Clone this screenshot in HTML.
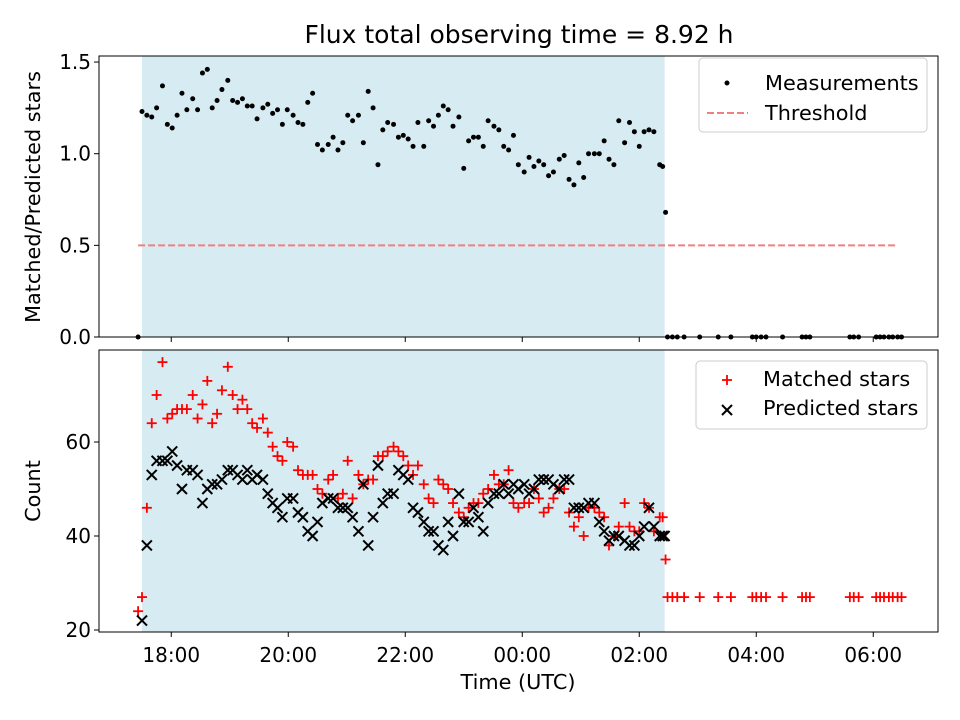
<!DOCTYPE html>
<html><head><meta charset="utf-8"><style>
body{margin:0;background:#fff}
svg{display:block;font-family:"DejaVu Sans","Liberation Sans",sans-serif}
</style></head><body>
<svg id="c" width="960" height="720" viewBox="0 0 960 720"></svg>
<script>
const times=[0,5,10,15,21,26,31,36,41,46,52,57,62,67,72,77,82,88,93,98,103,108,113,118,124,129,134,139,144,149,155,160,165,170,175,180,185,191,196,201,206,211,216,222,227,232,237,242,247,252,258,263,268,273,278,283,289,294,299,304,309,314,319,325,330,335,340,345,350,355,361,366,371,376,381,386,392,397,402,407,412,417,422,428,433,438,443,448,453,458,464,469,474,479,484,489,495,500,505,510,515,520,525,531,534,536];
const ratio=[1.23,1.21,1.20,1.25,1.37,1.16,1.14,1.21,1.33,1.24,1.30,1.24,1.44,1.46,1.25,1.29,1.35,1.40,1.29,1.28,1.30,1.26,1.26,1.19,1.25,1.27,1.22,1.24,1.16,1.24,1.21,1.17,1.16,1.28,1.33,1.05,1.02,1.05,1.09,1.02,1.06,1.21,1.18,1.21,1.06,1.34,1.25,0.94,1.13,1.17,1.16,1.09,1.10,1.08,1.04,1.17,1.04,1.18,1.15,1.21,1.26,1.24,1.15,1.20,0.92,1.07,1.09,1.09,1.04,1.18,1.15,1.13,1.04,1.02,1.10,0.94,0.90,0.98,0.93,0.96,0.94,0.88,0.90,0.97,0.99,0.86,0.83,0.95,0.87,1.00,1.00,1.00,1.07,0.97,0.94,1.18,1.06,1.17,1.12,1.04,1.12,1.13,1.12,0.94,0.93];
const matched=[27,46,64,70,77,65,66,67,67,67,70,65,68,73,64,66,71,76,70,67,69,67,64,63,65,62,59,57,56,60,59,54,53,53,53,50,49,52,53,48,49,56,48,53,51,52,52,57,57,58,59,58,57,55,53,55,51,48,47,52,51,50,47,45,44,46,47,47,49,50,53,51,51,54,47,46,47,47,50,48,45,46,48,50,50,45,42,44,40,46,46,45,44,38,40,42,47,42,41,41,47,46,41,44,44];
const predicted=[22,38,53,56,56,56,58,55,50,54,54,53,47,50,51,51,52,54,54,53,52,54,52,53,52,49,47,46,44,48,48,45,44,41,40,43,47,48,48,46,46,46,44,41,51,38,44,55,47,49,49,54,53,52,46,45,43,41,41,38,37,43,40,49,43,43,46,44,41,47,49,49,51,49,51,50,51,49,50,52,52,52,51,50,52,52,46,46,46,47,47,43,41,39,40,40,39,38,38,40,42,46,42,40,40,40];
const extraTimes=[-4,537,539,544,549,556,572,591,604,626,630,635,640,657,677,681,685,726,730,735,753,757,761,766,770,775,779];
const extraRatio=[0,0.68,0,0,0,0,0,0,0,0,0,0,0,0,0,0,0,0,0,0,0,0,0,0,0,0,0];
const extraMatched=[24,35,27,27,27,27,27,27,27,27,27,27,27,27,27,27,27,27,27,27,27,27,27,27,27,27,27];
const xTickLabels=["18:00","20:00","22:00","00:00","02:00","04:00","06:00"];
const xTickMin=[30,150,270,390,510,630,750];
const topTicks=[0,0.5,1.0,1.5];
const botTicks=[20,40,60];
const threshold=0.5;

const NS="http://www.w3.org/2000/svg";
const svg=document.getElementById('c');
function el(t,a,p){const e=document.createElementNS(NS,t);for(const k in a)e.setAttribute(k,a[k]);(p||svg).appendChild(e);return e;}
const X=m=>142+m*58.5/60;
const YT=v=>337-v*183.3;
const YB=v=>630-(v-20)*4.7;
const L=99,R=938;

let s=el('rect',{x:X(0),y:56,width:X(536)-X(0),height:281,fill:'#add8e6','fill-opacity':0.5});

s=el('rect',{x:X(0),y:350,width:X(536)-X(0),height:282,fill:'#add8e6','fill-opacity':0.5});


let th=el('line',{x1:X(-4),x2:X(773),y1:YT(threshold),y2:YT(threshold),stroke:'#f08080','stroke-width':2,'stroke-dasharray':'7,3'});


const allR=[];
for(let i=0;i<ratio.length;i++)allR.push([times[i],ratio[i]]);
for(let i=0;i<extraTimes.length;i++)allR.push([extraTimes[i],extraRatio[i]]);
allR.forEach(p=>{const c=el('circle',{cx:X(p[0]),cy:YT(p[1]),r:2.5,fill:'#000'});
});

function plus(x,y,h){h=h||5;const g=el('g',{stroke:'#f00','stroke-width':1.8});
el('line',{x1:x-h,x2:x+h,y1:y,y2:y},g);el('line',{x1:x,x2:x,y1:y-h,y2:y+h},g);return g;}
function cross(x,y,h){h=h||5;const g=el('g',{stroke:'#000','stroke-width':2});
el('line',{x1:x-h,x2:x+h,y1:y-h,y2:y+h},g);el('line',{x1:x-h,x2:x+h,y1:y+h,y2:y-h},g);return g;}
for(let i=0;i<matched.length;i++){const g=plus(X(times[i]),YB(matched[i]));
}
for(let i=0;i<extraTimes.length;i++){const g=plus(X(extraTimes[i]),YB(extraMatched[i]));
}
for(let i=0;i<predicted.length;i++){const g=cross(X(times[i]),YB(predicted[i]));
}

let f=el('rect',{x:L,y:56,width:R-L,height:281,fill:'none',stroke:'#000','stroke-width':1});

f=el('rect',{x:L,y:350,width:R-L,height:282,fill:'none',stroke:'#000','stroke-width':1});


function txt(x,y,t,a,name){const e=el('text',Object.assign({x:x,y:y,'font-size':20,fill:'#000'},a||{}));e.textContent=t;
return e;}
xTickMin.forEach((m,i)=>{const x=X(m);
el('line',{x1:x,x2:x,y1:337,y2:342,stroke:'#000'});
el('line',{x1:x,x2:x,y1:632,y2:637,stroke:'#000'});
txt(x,662,xTickLabels[i],{'text-anchor':'middle'},'x-tick-label');});
topTicks.forEach(v=>{const y=YT(v);el('line',{x1:L-5,x2:L,y1:y,y2:y,stroke:'#000'});
txt(L-8,y+7,v.toFixed(1),{'text-anchor':'end'},'top-y-tick-label');});
botTicks.forEach(v=>{const y=YB(v);el('line',{x1:L-5,x2:L,y1:y,y2:y,stroke:'#000'});
txt(L-8,y+7,String(v),{'text-anchor':'end'},'bottom-y-tick-label');});

txt(519,43,'Flux total observing time = 8.92 h',{'text-anchor':'middle','font-size':25},'chart-title');
txt(518,689,'Time (UTC)',{'text-anchor':'middle','font-size':20.8},'x-axis-title');
txt(40,197,'Matched/Predicted stars',{'text-anchor':'middle','font-size':20.8,transform:'rotate(-90 40 197)'},'top-y-axis-title');
txt(40,491,'Count',{'text-anchor':'middle','font-size':20.8,transform:'rotate(-90 40 491)'},'bottom-y-axis-title');

let lg=el('rect',{x:699,y:58,width:228,height:74,rx:4,fill:'#fff','fill-opacity':0.8,stroke:'#ccc'});

el('circle',{cx:727,cy:83,r:2.5,fill:'#000'});
txt(765,90,'Measurements',{'font-size':20.8},'legend-measurements');
el('line',{x1:707,x2:748,y1:113,y2:113,stroke:'#f08080','stroke-width':2,'stroke-dasharray':'7,3'});
txt(765,120,'Threshold',{'font-size':20.8},'legend-threshold');
lg=el('rect',{x:696,y:361,width:231,height:68,rx:4,fill:'#fff','fill-opacity':0.8,stroke:'#ccc'});

plus(727,380,5);txt(763,386,'Matched stars',{'font-size':20.8},'legend-matched');
cross(727,410,5);txt(763,415,'Predicted stars',{'font-size':20.8},'legend-predicted');
</script>
</body></html>
